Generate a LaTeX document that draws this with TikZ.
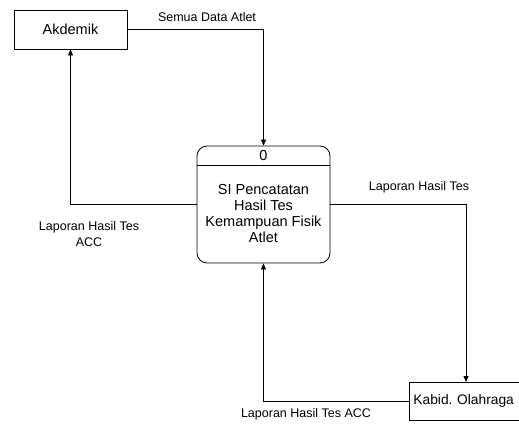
\documentclass[tikz,border=0pt]{standalone}
\usepackage{fontspec}
\setmainfont{Liberation Sans}
\usetikzlibrary{arrows.meta}
\begin{document}
\begin{tikzpicture}[x=1pt,y=-1pt,
  ent/.style={draw,line width=0.8pt,inner sep=0pt,font=\fontsize{14.5}{16.3}\selectfont},
  proc/.style={draw,line width=0.8pt,rounded corners=10pt,inner sep=0pt,minimum width=133pt,minimum height=117pt},
  flow/.style={line width=0.8pt,-{Triangle[length=6pt,width=5pt]}},
  lbl/.style={font=\fontsize{12.5}{16}\selectfont,align=center,inner sep=0pt},
  ptxt/.style={font=\fontsize{14.5}{16.3}\selectfont,align=center,inner sep=0pt}]
\useasboundingbox (0,0) rectangle (519,426);
\node[ent,minimum width=113pt,minimum height=39pt] (akd) at (70.5,29.5) {Akdemik};
\node[proc] (pr) at (263.5,204.5) {};
\coordinate (dl) at (197,165);
\coordinate (dr) at (330,165);
\draw[line width=0.8pt] (dl) -- (dr);
\node[ptxt] (pid) at (263.5,155.5) {0};
\node[ptxt] (ptx) at (263.5,213.5) {SI Pencatatan\\Hasil Tes\\Kemampuan Fisik\\Atlet};
\node[ent,anchor=west,text width=117pt,align=left,inner xsep=4pt,minimum height=38pt,font=\fontsize{13.8}{16}\selectfont] (kab) at (409,401) {Kabid.\ Olahraga};
\coordinate (kabtop) at (466,382);
\draw[flow] (akd.east) -| (pr.north);
\draw[flow] (pr.west) -| (akd.south);
\draw[flow] (pr.east) -| (kabtop);
\draw[flow] (kab.west) -| (pr.south);
\node[lbl] (l1) at (207,17) {Semua Data Atlet};
\node[lbl] (l2) at (89,234) {Laporan Hasil Tes\\ACC};
\node[lbl] (l3) at (419,187) {Laporan Hasil Tes};
\node[lbl] (l4) at (306,414) {Laporan Hasil Tes ACC};
\end{tikzpicture}
\end{document}
